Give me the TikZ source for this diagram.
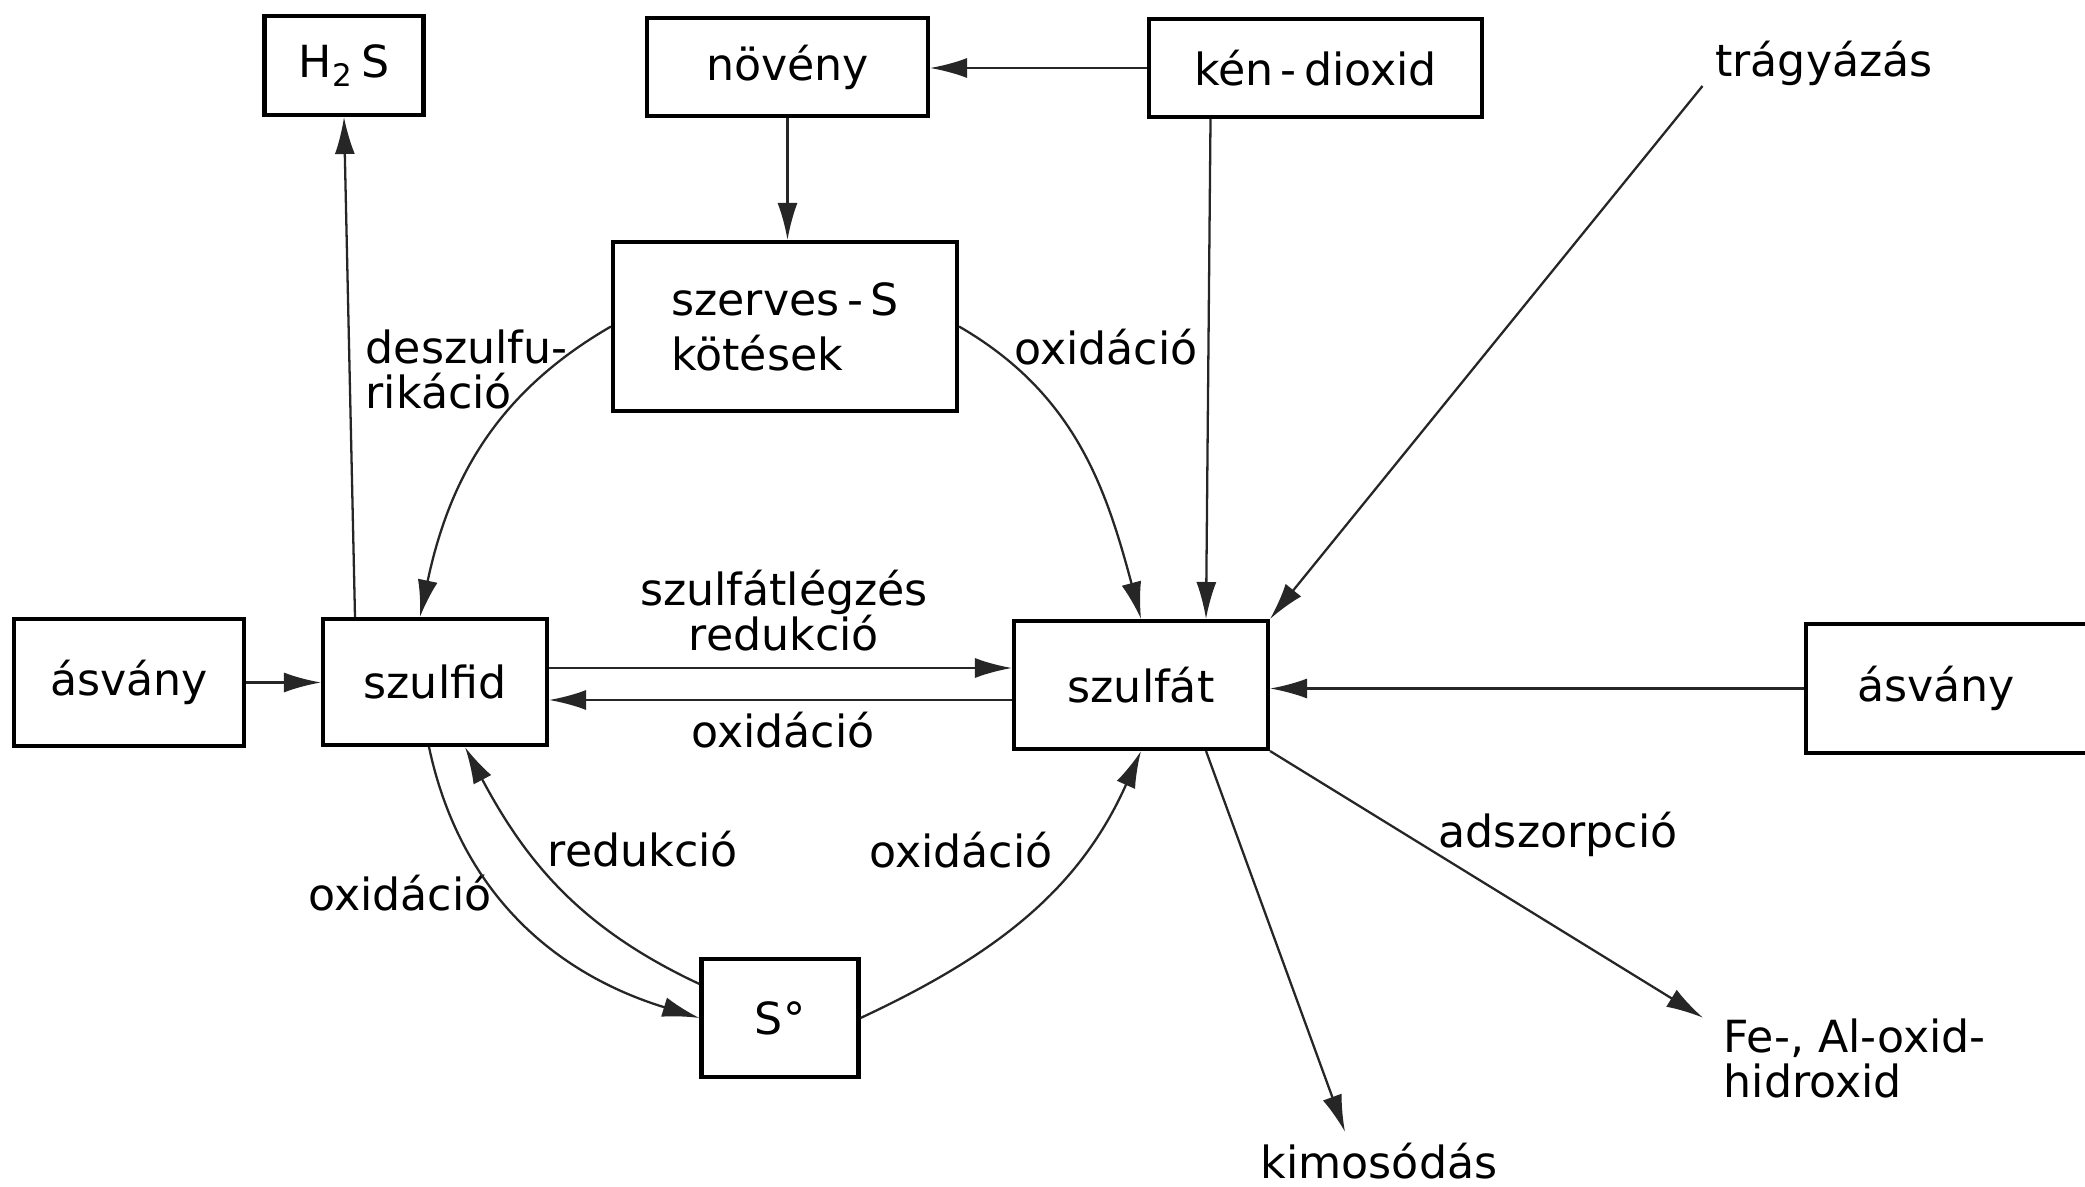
\documentclass[tikz,border=0pt]{standalone}
\usepackage{fontspec}
\setmainfont{DejaVu Sans}
\usetikzlibrary{arrows.meta}

\begin{document}
\begin{tikzpicture}[
		font=\fontsize{12.6}{13}\selectfont,
		box/.style={draw, line width=1.15pt, inner sep=0pt},
		lbl/.style={inner sep=0pt},
		arr/.style={-{Latex[length=3.7mm,width=2mm]}, line width=0.65pt, black!85}
	]
		\useasboundingbox (0,0) rectangle (20.85,11.86);
		
		% 1. Top row
		\node[box, minimum width=1.59cm, minimum height=0.99cm] (h2s) at (3.44,11.205) {H\textsubscript{2}\,S};
		\node[box, minimum width=2.81cm, minimum height=0.98cm] (noveny) at (7.875,11.19) {növény};
		\node[box, minimum width=3.33cm, minimum height=0.98cm] (ken) at (13.155,11.18) {kén\,-\,dioxid};
		\node[lbl, anchor=base] (trag) at (18.24,11.09) {trágyázás};
		
		% 2. Organic sulfur
		\node[box, minimum width=3.44cm, minimum height=1.69cm, align=left,
			font=\fontsize{12.6}{15.6}\selectfont] (szerves) at (7.85,8.595) {szerves\,-\,S\\kötések};
		
		% 3. Middle row: sulfide and sulfate pools
		\node[box, minimum width=2.30cm, minimum height=1.27cm] (asvanyL) at (1.29,5.035) {ásvány};
		\node[box, minimum width=2.24cm, minimum height=1.26cm] (szulfid) at (4.35,5.04) {szulfid};
		\node[box, minimum width=2.54cm, minimum height=1.28cm] (szulfat) at (11.41,5.01) {szulfát};
		\node[box, anchor=west, minimum height=1.29cm, text width=2.0cm, align=left,
			inner xsep=0.51cm] (asvanyR) at (18.04,4.975) {ásvány};
		
		% 4. Elemental sulfur
		\node[box, minimum width=1.57cm, minimum height=1.18cm] (s0) at (7.80,1.68) {S°};
		
		% --- Process labels ---
		\node[lbl, anchor=north west, align=left] (desz) at (3.65,8.573) {deszulfu-\\rikáció};
		\node[lbl, anchor=base] (oxSzerves) at (11.06,8.21) {oxidáció};
		\node[lbl, anchor=north, align=center] (legzes) at (7.84,6.17) {szulfátlégzés\\redukció};
		\node[lbl, anchor=base] (oxSzulfid) at (7.83,4.39) {oxidáció};
		\node[lbl, anchor=base] (redS0) at (6.43,3.20) {redukció};
		\node[lbl, anchor=base] (oxS0) at (9.61,3.19) {oxidáció};
		\node[lbl, anchor=base] (oxSzulfidS0) at (4.00,2.76) {oxidáció};
		\node[lbl, anchor=base] (adsz) at (15.58,3.39) {adszorpció};
		\node[lbl, anchor=north west, align=left] (fe) at (17.23,1.683) {Fe-, Al-oxid-\\hidroxid};
		\node[lbl, anchor=base] (kimos) at (13.79,0.08) {kimosódás};
		
		% --- Connectors ---
		\draw[arr] (ken.west) -- (ken.west -| noveny.east);
		\draw[arr] (noveny.south) -- (noveny.south |- szerves.north);
		\draw[arr] ([xshift=-1.05cm]ken.south) -- ([xshift=0.65cm]szulfat.north);
		\draw[arr] ([xshift=-0.12cm,yshift=-0.09cm]trag.base west) -- (szulfat.north east);
		\draw[arr] (szerves.east) to[out=-30, in=105] (szulfat.north);
		\draw[arr] (szerves.west) to[out=210, in=78] ([xshift=-0.15cm]szulfid.north);
		\draw[arr] ([xshift=-0.80cm]szulfid.north) -- (h2s.south);
		\draw[arr] (asvanyL.east) -- (asvanyL.east -| szulfid.west);
		\draw[arr] ([yshift=0.14cm]szulfid.east) -- ([yshift=0.14cm]szulfid.east -| szulfat.west);
		\draw[arr] ([yshift=-0.18cm]szulfid.east -| szulfat.west) -- ([yshift=-0.18cm]szulfid.east);
		\draw[arr] (asvanyR.west) -- (asvanyR.west -| szulfat.east);
		
		% sulfide <-> elemental S <-> sulfate
		\draw[arr] ([xshift=-0.06cm]szulfid.south) to[out=-78, in=163] (s0.west);
		\draw[arr] ([yshift=0.34cm]s0.west) to[out=155, in=-62] ([xshift=0.30cm]szulfid.south);
		\draw[arr] (s0.east) to[out=25, in=-114] (szulfat.south);
		
		% losses from the sulfate pool
		\draw[arr] ([xshift=0.65cm]szulfat.south) -- ([xshift=-0.34cm,yshift=0.1cm]kimos.north);
		\draw[arr] (szulfat.south east) -- ([xshift=-0.2cm]fe.north west);
		
	\end{tikzpicture}
\end{document}
